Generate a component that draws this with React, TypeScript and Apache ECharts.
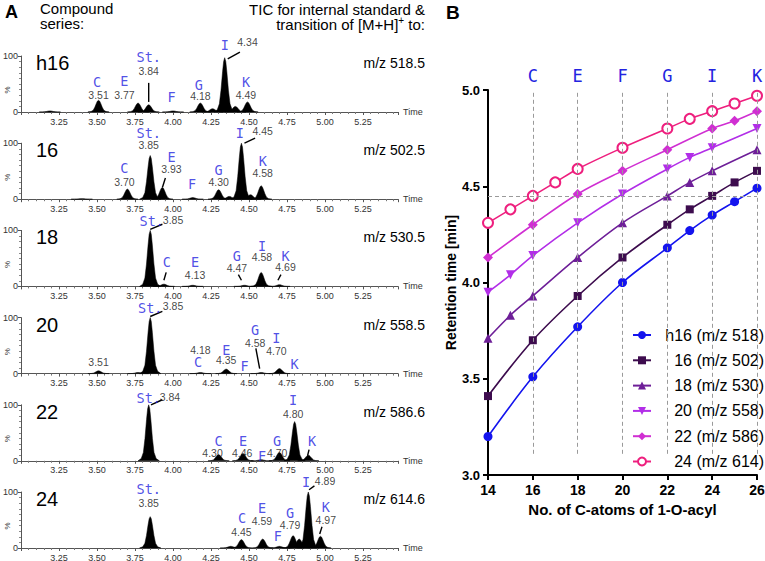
import React, { useEffect, useRef } from 'react';
import * as echarts from 'echarts';

// ---------- Panel A: chromatograms ----------
const subplotNames = ['h16', '16', '18', '20', '22', '24'];
const mzLabels = ['m/z 518.5', 'm/z 502.5', 'm/z 530.5', 'm/z 558.5', 'm/z 586.6', 'm/z 614.6'];

// peaks: [retention time (min), relative intensity (%)]
const peaksH16 = [[3.19, 2], [3.51, 21], [3.77, 16], [3.84, 13], [4.0, 2], [4.18, 16], [4.26, 6], [4.34, 97], [4.41, 10], [4.49, 18]];
const peaks16 = [[3.4, 1], [3.7, 18], [3.85, 78], [3.93, 21], [4.13, 3], [4.3, 17], [4.37, 5], [4.45, 100], [4.51, 8], [4.58, 24]];
const peaks18 = [[3.85, 100], [3.94, 4], [4.13, 2], [4.47, 2], [4.58, 25], [4.7, 3]];
const peaks20 = [[3.51, 5], [3.77, 2], [3.85, 100], [4.18, 2], [4.35, 8], [4.58, 2], [4.7, 9]];
const peaks22 = [[3.84, 100], [4.3, 11], [4.46, 13], [4.58, 2], [4.7, 15], [4.8, 70], [4.89, 10]];
const peaks24 = [[3.85, 56], [4.38, 3], [4.45, 15], [4.59, 16], [4.7, 3], [4.79, 22], [4.83, 16], [4.89, 100], [4.97, 21]];

// annotations: [time, %, text]
const annotH16 = [[3.5, 53, 'C'], [3.51, 31, '3.51'], [3.68, 55, 'E'], [3.68, 31, '3.77'], [3.84, 98, 'St.'], [3.84, 73, '3.84'], [3.99, 27, 'F'], [4.17, 49, 'G'], [4.18, 28, '4.18'], [4.34, 120, 'I'], [4.49, 125, '4.34'], [4.48, 53, 'K'], [4.48, 31, '4.49']];
const annot16 = [[3.84, 118, 'St.'], [3.84, 96, '3.85'], [3.68, 55, 'C'], [3.68, 30, '3.70'], [3.99, 75, 'E'], [3.99, 54, '3.93'], [4.125, 27, 'F'], [4.3, 52, 'G'], [4.3, 30, '4.30'], [4.44, 118, 'I'], [4.59, 121, '4.45'], [4.59, 68, 'K'], [4.59, 47, '4.58']];
const annot18 = [[3.86, 116, 'St.'], [4.0, 118, '3.85'], [3.96, 43, 'C'], [4.145, 43, 'E'], [4.145, 20, '4.13'], [4.42, 54, 'G'], [4.42, 32, '4.47'], [4.585, 73, 'I'], [4.585, 52, '4.58'], [4.74, 54, 'K'], [4.74, 34, '4.69']];
const annot20 = [[3.85, 118, 'St.'], [4.0, 120, '3.85'], [3.51, 21, '3.51'], [4.18, 43, '4.18'], [4.165, 20, 'C'], [4.35, 43, 'E'], [4.35, 24, '4.35'], [4.47, 14, 'F'], [4.54, 77, 'G'], [4.54, 55, '4.58'], [4.68, 64, 'I'], [4.68, 41, '4.70'], [4.8, 18, 'K']];
const annot22 = [[3.84, 113, 'St.'], [3.98, 114, '3.84'], [4.3, 36, 'C'], [4.26, 14, '4.30'], [4.46, 36, 'E'], [4.455, 14, '4.46'], [4.585, 9, 'F'], [4.685, 36, 'G'], [4.685, 14, '4.70'], [4.79, 109, 'I'], [4.79, 84, '4.80'], [4.915, 36, 'K']];
const annot24 = [[3.84, 105, 'St.'], [3.84, 80, '3.85'], [4.455, 54, 'C'], [4.45, 29, '4.45'], [4.585, 71, 'E'], [4.585, 48, '4.59'], [4.69, 21, 'F'], [4.77, 62, 'G'], [4.77, 41, '4.79'], [4.875, 118, 'I'], [5.0, 120, '4.89'], [5.005, 73, 'K'], [5.005, 50, '4.97']];

// leader lines: [t1, %1, t2, %2]
const leadH16 = [[3.84, 52, 3.84, 18], [4.36, 95, 4.44, 107]];
const lead16 = [[3.93, 21, 3.95, 38], [4.47, 100, 4.54, 109]];
const lead18 = [[3.85, 102, 3.93, 111], [3.94, 11, 3.955, 25], [4.43, 21, 4.45, 11], [4.69, 11, 4.71, 21]];
const lead20 = [[3.85, 102, 3.93, 111], [4.545, 45, 4.57, 9]];
const lead22 = [[3.855, 100, 3.93, 109], [4.885, 9, 4.895, 20]];
const lead24 = [[4.895, 104, 4.93, 111], [4.965, 25, 4.98, 38]];

const PEAKS = [peaksH16, peaks16, peaks18, peaks20, peaks22, peaks24];
const ANNOTS = [annotH16, annot16, annot18, annot20, annot22, annot24];
const LEADS = [leadH16, lead16, lead18, lead20, lead22, lead24];

// ---------- Panel B: retention time vs chain length ----------
const seriesNames = ['h16 (m/z 518)', '16 (m/z 502)', '18 (m/z 530)', '20 (m/z 558)', '22 (m/z 586)', '24 (m/z 614)'];
const carbonH16 = [14, 16, 18, 20, 22, 23, 24, 25, 26];
const rtH16 = [3.2, 3.51, 3.77, 4.0, 4.18, 4.27, 4.35, 4.42, 4.49];
const carbon16 = [14, 16, 18, 20, 22, 23, 24, 25, 26];
const rt16 = [3.41, 3.7, 3.93, 4.13, 4.3, 4.38, 4.45, 4.52, 4.58];
const carbon18 = [14, 15, 16, 18, 20, 22, 23, 24, 26];
const rt18 = [3.71, 3.83, 3.93, 4.13, 4.31, 4.45, 4.52, 4.58, 4.69];
const carbon20 = [14, 15, 16, 18, 20, 22, 23, 24, 26];
const rt20 = [3.95, 4.04, 4.14, 4.31, 4.46, 4.59, 4.65, 4.7, 4.8];
const carbon22 = [14, 16, 18, 20, 22, 24, 25, 26];
const rt22 = [4.13, 4.3, 4.46, 4.58, 4.69, 4.8, 4.84, 4.89];
const carbon24 = [14, 15, 16, 17, 18, 20, 22, 23, 24, 25, 26];
const rt24 = [4.31, 4.38, 4.45, 4.52, 4.59, 4.7, 4.8, 4.85, 4.89, 4.93, 4.97];
const markerLetters = ['C', 'E', 'F', 'G', 'I', 'K'];
const markerCarbons = [16, 18, 20, 22, 24, 26];
const refRetention = 4.45;

const CARBONS = [carbonH16, carbon16, carbon18, carbon20, carbon22, carbon24];
const RTS = [rtH16, rt16, rt18, rt20, rt22, rt24];
const COLORS = ['#1414ee', '#3d0c4e', '#6e1f98', '#b22ee8', '#d02fd2', '#ee1f7e'];
const SYMBOLS = ['circle', 'rect', 'triangle', 'path://M0,0 L10,0 L5,9 Z', 'diamond', 'emptyCircle'];
const SYMSIZE = [9, 8, 9, 9, 10, 10];

const SANS = 'Liberation Sans, Arial, Helvetica, sans-serif';
const HAND = 'DejaVu Sans Mono, monospace';
const LETTER_BLUE = '#2323e0';

// peak outline (relative width, relative height)
const PEAK_SHAPE = [[-1, 0], [-0.7, 0.04], [-0.5, 0.15], [-0.35, 0.4], [-0.2, 0.74], [-0.1, 0.93], [0, 1], [0.1, 0.93], [0.2, 0.74], [0.35, 0.4], [0.5, 0.15], [0.7, 0.04], [1, 0]];
const PEAK_W = 0.07;

export default function App() {
  const ref = useRef<HTMLDivElement>(null);
  useEffect(() => {
    const chart = echarts.init(ref.current!, null, { renderer: 'svg' });
    const gridTop = (k: number) => 56 + 87.2 * k;
    const grids: any[] = [];
    const xAxes: any[] = [];
    const yAxes: any[] = [];
    const series: any[] = [];
    const graphics: any[] = [];

    for (let k = 0; k < 6; k++) {
      grids.push({ left: 21, width: 377, top: gridTop(k), height: 56, containLabel: false, outerBoundsMode: 'none' });
      xAxes.push({
        type: 'value', gridIndex: k, min: 3, max: 5.48, interval: 0.25,
        axisLine: { lineStyle: { color: '#555', width: 1 } },
        axisTick: { length: 3, lineStyle: { color: '#555' } },
        minorTick: { show: true, splitNumber: 5, length: 2, lineStyle: { color: '#777' } },
        axisLabel: { showMinLabel: false, showMaxLabel: false, formatter: (v: number) => v.toFixed(2), fontSize: 9, color: '#333', margin: 5, fontFamily: SANS },
        splitLine: { show: false },
        name: 'Time', nameLocation: 'end', nameGap: 5,
        nameTextStyle: { fontSize: 9, color: '#333', fontFamily: SANS },
      });
      yAxes.push({
        type: 'value', gridIndex: k, min: 0, max: 100, interval: 100,
        axisLine: { show: true, lineStyle: { color: '#555' } },
        axisTick: { show: true, length: 3, lineStyle: { color: '#555' } },
        minorTick: { show: true, splitNumber: 10, length: 2, lineStyle: { color: '#888' } },
        axisLabel: { fontSize: 9, color: '#333', margin: 3, fontFamily: SANS },
        splitLine: { show: false },
      });
      series.push({
        type: 'custom', xAxisIndex: k, yAxisIndex: k, silent: true,
        data: PEAKS[k],
        renderItem: (params: any, api: any) => {
          const t = api.value(0);
          const h = api.value(1);
          const pts = PEAK_SHAPE.map(([fx, fy]) => api.coord([t + fx * PEAK_W, fy * h]));
          return { type: 'polygon', shape: { points: pts }, style: { fill: '#000', stroke: '#000', lineWidth: 0.5 } };
        },
      });
      series.push({
        type: 'custom', xAxisIndex: k, yAxisIndex: k, silent: true,
        data: LEADS[k],
        renderItem: (params: any, api: any) => {
          const a = api.coord([api.value(0), api.value(1)]);
          const b = api.coord([api.value(2), api.value(3)]);
          return { type: 'line', shape: { x1: a[0], y1: a[1], x2: b[0], y2: b[1] }, style: { stroke: '#000', lineWidth: 1.4 } };
        },
      });
      series.push({
        type: 'scatter', xAxisIndex: k, yAxisIndex: k, silent: true, clip: false,
        symbolSize: 1, itemStyle: { color: 'rgba(0,0,0,0)' },
        data: ANNOTS[k].map((a: any) => {
          const isNum = /^\d/.test(a[2]);
          return {
            value: [a[0], a[1]],
            label: {
              show: true, position: 'inside', formatter: a[2],
              color: isNum ? '#111' : LETTER_BLUE,
              fontFamily: isNum ? SANS : HAND,
              fontSize: isNum ? 10.5 : 13.5,
            },
          };
        }),
      });
      graphics.push({
        type: 'text', left: 36, top: 64 + 87.2 * k - 11,
        style: { text: subplotNames[k], font: `20px ${SANS}`, fill: '#000' },
      });
      graphics.push({
        type: 'text', x: 425, y: 63 + 87.2 * k,
        style: { text: mzLabels[k], font: `14px ${SANS}`, fill: '#000', align: 'right', verticalAlign: 'middle' },
      });
      graphics.push({
        type: 'text', x: 7, y: 90 + 87.2 * k, rotation: Math.PI / 2,
        style: { text: '%', font: `8px ${SANS}`, fill: '#333', align: 'center', verticalAlign: 'middle' },
      });
    }

    // Panel B
    grids.push({ left: 488, right: 8, top: 90, bottom: 86, containLabel: false, outerBoundsMode: 'none' });
    xAxes.push({
      type: 'value', gridIndex: 6, min: 14, max: 26, interval: 2,
      axisLine: { lineStyle: { color: '#000', width: 2 } },
      axisTick: { length: 5, lineStyle: { color: '#000', width: 2 } },
      axisLabel: { fontSize: 14, fontWeight: 'bold', color: '#000', margin: 8, fontFamily: SANS },
      splitLine: { show: false },
      name: 'No. of C-atoms of 1-O-acyl', nameLocation: 'middle', nameGap: 26,
      nameTextStyle: { fontSize: 15, fontWeight: 'bold', color: '#000', fontFamily: SANS, verticalAlign: 'top' },
    });
    yAxes.push({
      type: 'value', gridIndex: 6, min: 3, max: 5, interval: 0.5,
      axisLine: { show: true, lineStyle: { color: '#000', width: 2 } },
      axisTick: { show: true, length: 5, lineStyle: { color: '#000', width: 2 } },
      axisLabel: { fontSize: 13, fontWeight: 'bold', color: '#000', margin: 8, fontFamily: SANS, formatter: (v: number) => v.toFixed(1) },
      splitLine: { show: false },
      name: 'Retention time [min]', nameLocation: 'middle', nameGap: 30, nameRotate: 90,
      nameTextStyle: { fontSize: 14, fontWeight: 'bold', color: '#000', fontFamily: SANS },
    });
    series.push({
      type: 'line', xAxisIndex: 6, yAxisIndex: 6, data: [], silent: true, z: 1,
      markLine: {
        silent: true, symbol: ['none', 'none'], animation: false,
        lineStyle: { color: '#9a9a9a', width: 1, type: [4, 3] },
        label: { show: true, position: 'end', distance: 6, formatter: (p: any) => p.name, color: LETTER_BLUE, fontFamily: HAND, fontSize: 17 },
        data: [
          ...markerCarbons.map((c, i) => [{ name: markerLetters[i], coord: [c, 3.11] }, { coord: [c, 5.0] }]),
          [{ name: '', coord: [14, refRetention] }, { coord: [26, refRetention] }],
        ],
      },
    });
    for (let i = 0; i < 6; i++) {
      series.push({
        type: 'line', name: seriesNames[i], xAxisIndex: 6, yAxisIndex: 6, z: 3,
        data: CARBONS[i].map((c, j) => [c, RTS[i][j]]),
        smooth: 0.35,
        symbol: SYMBOLS[i], symbolSize: SYMSIZE[i], showAllSymbol: true,
        lineStyle: { color: COLORS[i], width: 1.6 },
        itemStyle: i === 5 ? { color: COLORS[i], borderColor: COLORS[i], borderWidth: 2 } : { color: COLORS[i] },
      });
    }

    graphics.push({ type: 'text', left: 5, top: 3, style: { text: 'A', font: `bold 18px ${SANS}`, fill: '#000' } });
    graphics.push({ type: 'text', left: 446, top: 3, style: { text: 'B', font: `bold 19px ${SANS}`, fill: '#000' } });
    graphics.push({ type: 'text', left: 40, top: 1, style: { text: 'Compound\nseries:', font: `15px ${SANS}`, lineHeight: 15, fill: '#000' } });
    graphics.push({ type: 'text', x: 425, y: 9, style: { text: 'TIC for internal standard &', font: `15px ${SANS}`, fill: '#000', align: 'right', verticalAlign: 'middle' } });
    graphics.push({
      type: 'text', x: 425, y: 24,
      style: {
        text: '{n|transition of [M+H]}{s|+}{n| to:}', align: 'right', verticalAlign: 'middle',
        rich: {
          n: { fontSize: 15, fontFamily: SANS, color: '#000' },
          s: { fontSize: 10, fontFamily: SANS, color: '#000', padding: [0, 0, 8, 0] },
        },
      },
    });

    chart.setOption({
      animation: false,
      backgroundColor: '#fff',
      grid: grids,
      xAxis: xAxes,
      yAxis: yAxes,
      legend: {
        data: seriesNames, orient: 'vertical', left: 627, top: 322,
        itemWidth: 18, itemHeight: 10, itemGap: 9.3, selectedMode: false,
        formatter: (name: string) => `{a|${name}}`,
        textStyle: { rich: { a: { width: 108, align: 'right', fontSize: 16, fontFamily: SANS, color: '#000' } } },
      },
      graphic: graphics,
      series,
    });
    return () => chart.dispose();
  }, []);
  return <div ref={ref} style={{ width: 765, height: 561, position: 'absolute', left: 0, top: 0 }} />;
}
